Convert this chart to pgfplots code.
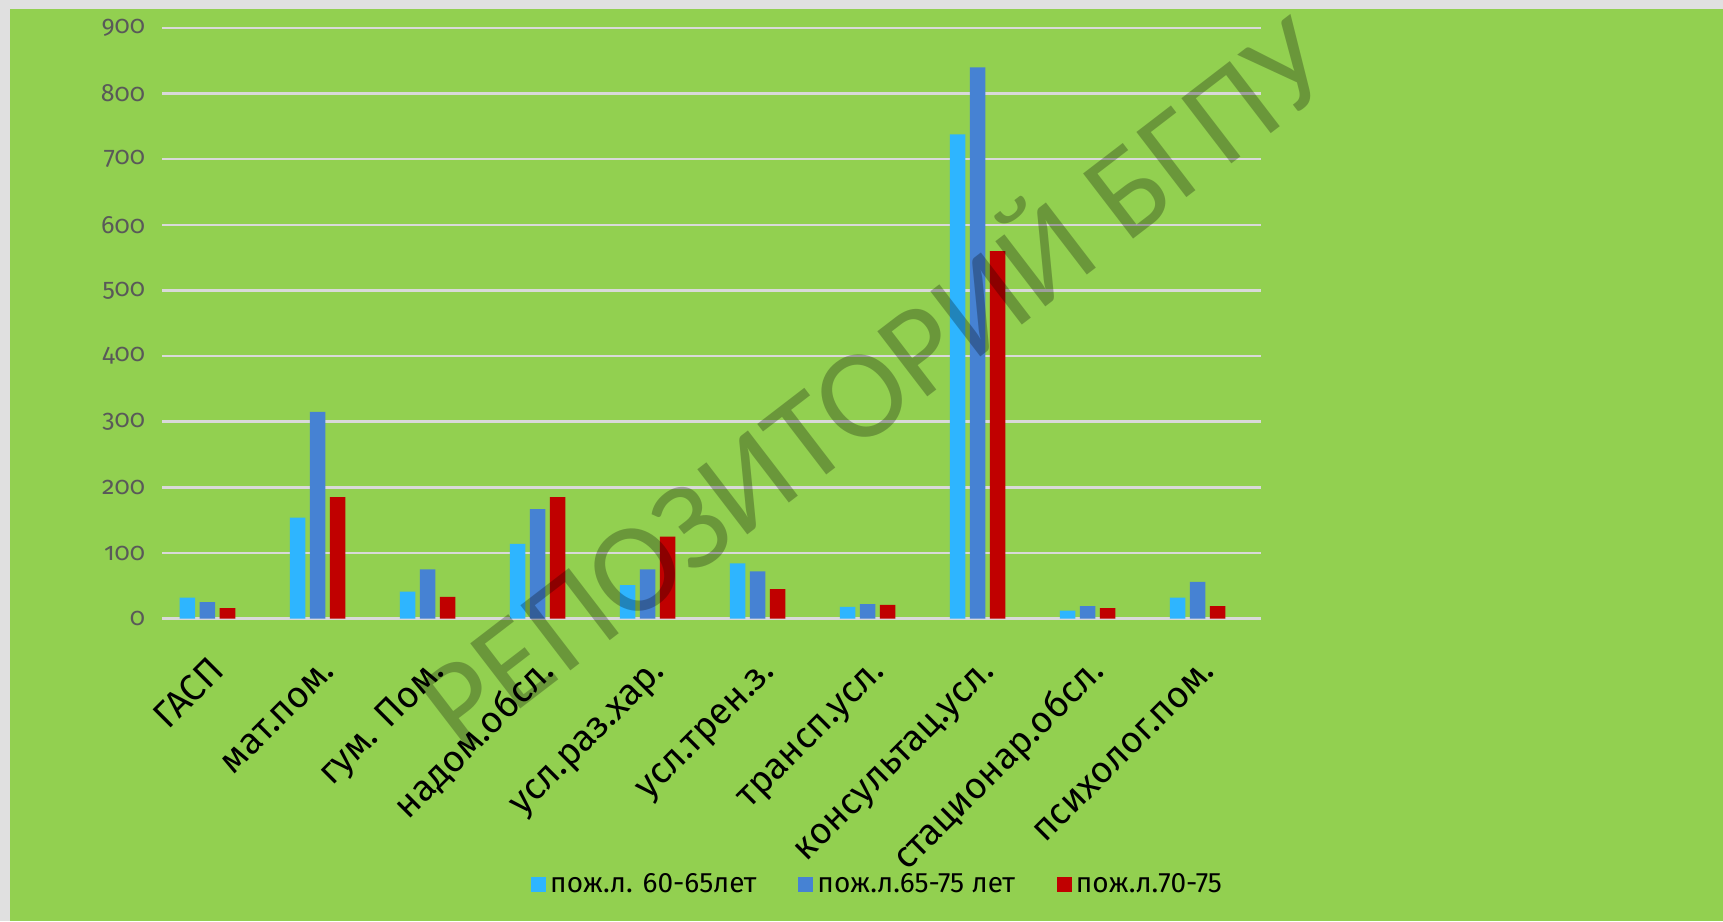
\documentclass[border=0pt]{standalone}
\usepackage{fontspec}
\setmainfont{Fira Sans}
\newfontfamily\tickfont{Fira Sans}[Numbers=OldStyle]
\newfontfamily\wmfont{Carlito}
\usepackage{pgfplots}
\usepackage{pgfplotstable}
\pgfplotsset{compat=1.18}

\definecolor{bg}{HTML}{92D050}
\definecolor{framegray}{HTML}{E0E0E0}
\definecolor{gridgray}{HTML}{D9D9D9}
\definecolor{sA}{HTML}{2EB5FF}
\definecolor{sB}{HTML}{4682D3}
\definecolor{sC}{HTML}{C00000}
\definecolor{ticktext}{HTML}{595959}

% x = category index, a/b/c = the three age groups
\pgfplotstableread{
x a   b   c
0 32  25  16
1 154 315 185
2 41  75  33
3 114 167 185
4 51  75  125
5 84  72  45
6 18  22  21
7 738 840 560
8 12  19  16
9 32  56  19
}\services

\begin{document}
\begin{tikzpicture}
\fill[framegray] (0pt,0pt) rectangle (861.5pt,460.5pt);
\fill[bg] (5pt,0pt) rectangle (861.5pt,456pt);
\path[use as bounding box] (0pt,0pt) rectangle (861.5pt,460.5pt);
\begin{axis}[
    at={(81pt,151.2pt)}, anchor=south west,
    scale only axis,
    width=549.5pt, height=295.3pt,
    xmin=-0.4136, xmax=9.577,
    ymin=0, ymax=900,
    ytick={0,100,...,900},
    xtick={0,...,9},
    xticklabels={ГАСП, мат.пом., гум. Пом., надом.обсл., усл.раз.хар., усл.трен.з., трансп.усл., консультац.усл., стационар.обсл., психолог.пом.},
    axis line style={draw=none},
    major tick length=0pt,
    ymajorgrids,
    grid style={gridgray, line width=1.25pt},
    ybar=2.25pt, bar width=7.75pt,
    /pgf/number format/assume math mode=true,
    yticklabel style={font=\tickfont\fontsize{12.5}{13}\selectfont, text=ticktext, xshift=-5pt},
    xticklabel style={font=\fontsize{18.5}{21}\selectfont, inner sep=0pt,
        xshift=9.5pt, yshift=-27pt, rotate=45, anchor=base east},
    legend style={at={(0.652,-0.451)}, anchor=center, draw=none, fill=none,
        legend columns=3, font=\fontsize{14}{16}\selectfont,
        /tikz/every even column/.append style={column sep=19pt}},
    legend image code/.code={\fill[#1] (0pt,-3.75pt) rectangle (7.5pt,3.75pt);},
]
\addplot[fill=sA, draw=none] table[x=x, y=a] {\services};
\addplot[fill=sB, draw=none] table[x=x, y=b] {\services};
\addplot[fill=sC, draw=none] table[x=x, y=c] {\services};
\legend{пож.л. 60-65лет, пож.л.65-75 лет, пож.л.70-75}
\end{axis}
\node[rotate=37.5, text=black, text opacity=0.27, font=\wmfont\fontsize{64}{70}\selectfont] at (435pt,272pt) {РЕПОЗИТОРИЙ БГПУ};
\end{tikzpicture}
\end{document}
